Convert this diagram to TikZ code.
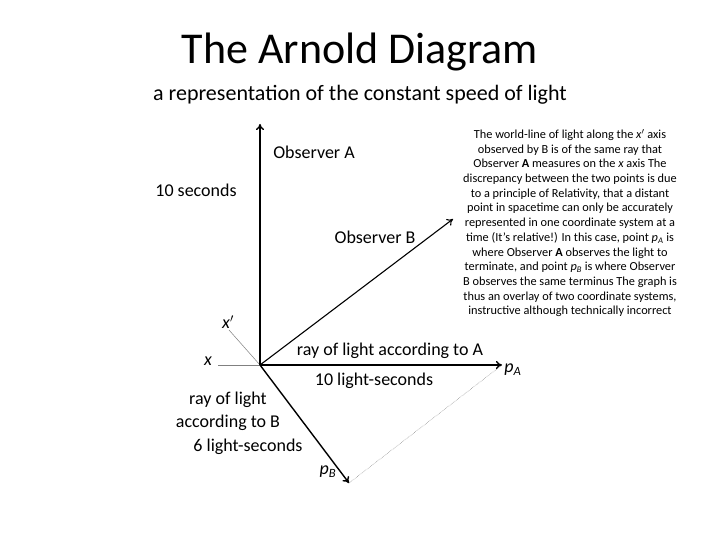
\documentclass[tikz,border=0pt]{standalone}
\usepackage{fontspec}
\setmainfont{Carlito}
\usetikzlibrary{arrows.meta}
\begin{document}
\begin{tikzpicture}[x=1pt,y=-1pt,
  lbl/.style={inner sep=0pt,font=\fontsize{18}{23}\selectfont},
  axis/.style={line width=1.4pt,-{To[length=6pt,width=8pt]}},
  thin/.style={gray,line width=0.5pt}]
\useasboundingbox[fill=white] (0,0) rectangle (720,540);
\node[inner sep=0pt,font=\fontsize{44}{48}\selectfont] (title) at (360,52) {The Arnold Diagram};
\node[inner sep=0pt,font=\fontsize{22}{26}\selectfont] (sub) at (360,95) {a representation of the constant speed of light};
\coordinate (O) at (260,365);
\coordinate (T) at (260,124);
\coordinate (B) at (453,219);
\coordinate (PA) at (502,365);
\coordinate (PB) at (349,483);
\coordinate (X) at (218,365);
\coordinate (XP) at (229,330);
\draw[thin] (X) -- (O);
\draw[thin] (XP) -- (O);
\draw[axis] (O) -- (T);
\draw[axis,line width=1.1pt] (O) -- (B);
\draw[axis] (O) -- (PA);
\draw[axis] (O) -- (PB);
\draw[thin,densely dotted] (PB) -- (PA);
\node[lbl] (oa) at (314,152) {Observer A};
\node[lbl] (ts) at (196,190) {10 seconds};
\node[lbl] (ob) at (375,237) {Observer B};
\node[lbl] (ra) at (390,351) {ray of light according to A};
\node[lbl] (tl) at (374,381) {10 light-seconds};
\node[lbl,align=center] (rb) at (228,411) {ray of light\\according to B};
\node[lbl] (sl) at (248,447) {6 light-seconds};
\node[lbl] (xl) at (208,361) {\itshape x};
\node[lbl] (xpl) at (228,322) {\itshape x$'$};
\node[lbl] (pal) at (513,370) {\itshape p\textsubscript{A}};
\node[lbl] (pbl) at (328,472) {\itshape p\textsubscript{B}};
\node[inner sep=0pt,align=center,font=\fontsize{12.3}{14.7}\selectfont] (txt) at (570,223) {The world-line of light along the \textit{x$'$} axis\\observed by B is of the same ray that\\Observer \textbf{A} measures on the \textit{x} axis The\\discrepancy between the two points is due\\to a principle of Relativity, that a distant\\point in spacetime can only be accurately\\represented in one coordinate system at a\\time (It's relative!) In this case, point \textit{p\textsubscript{A}} is\\where Observer \textbf{A} observes the light to\\terminate, and point \textit{p\textsubscript{B}} is where Observer\\B observes the same terminus The graph is\\thus an overlay of two coordinate systems,\\instructive although technically incorrect};
\end{tikzpicture}
\end{document}
